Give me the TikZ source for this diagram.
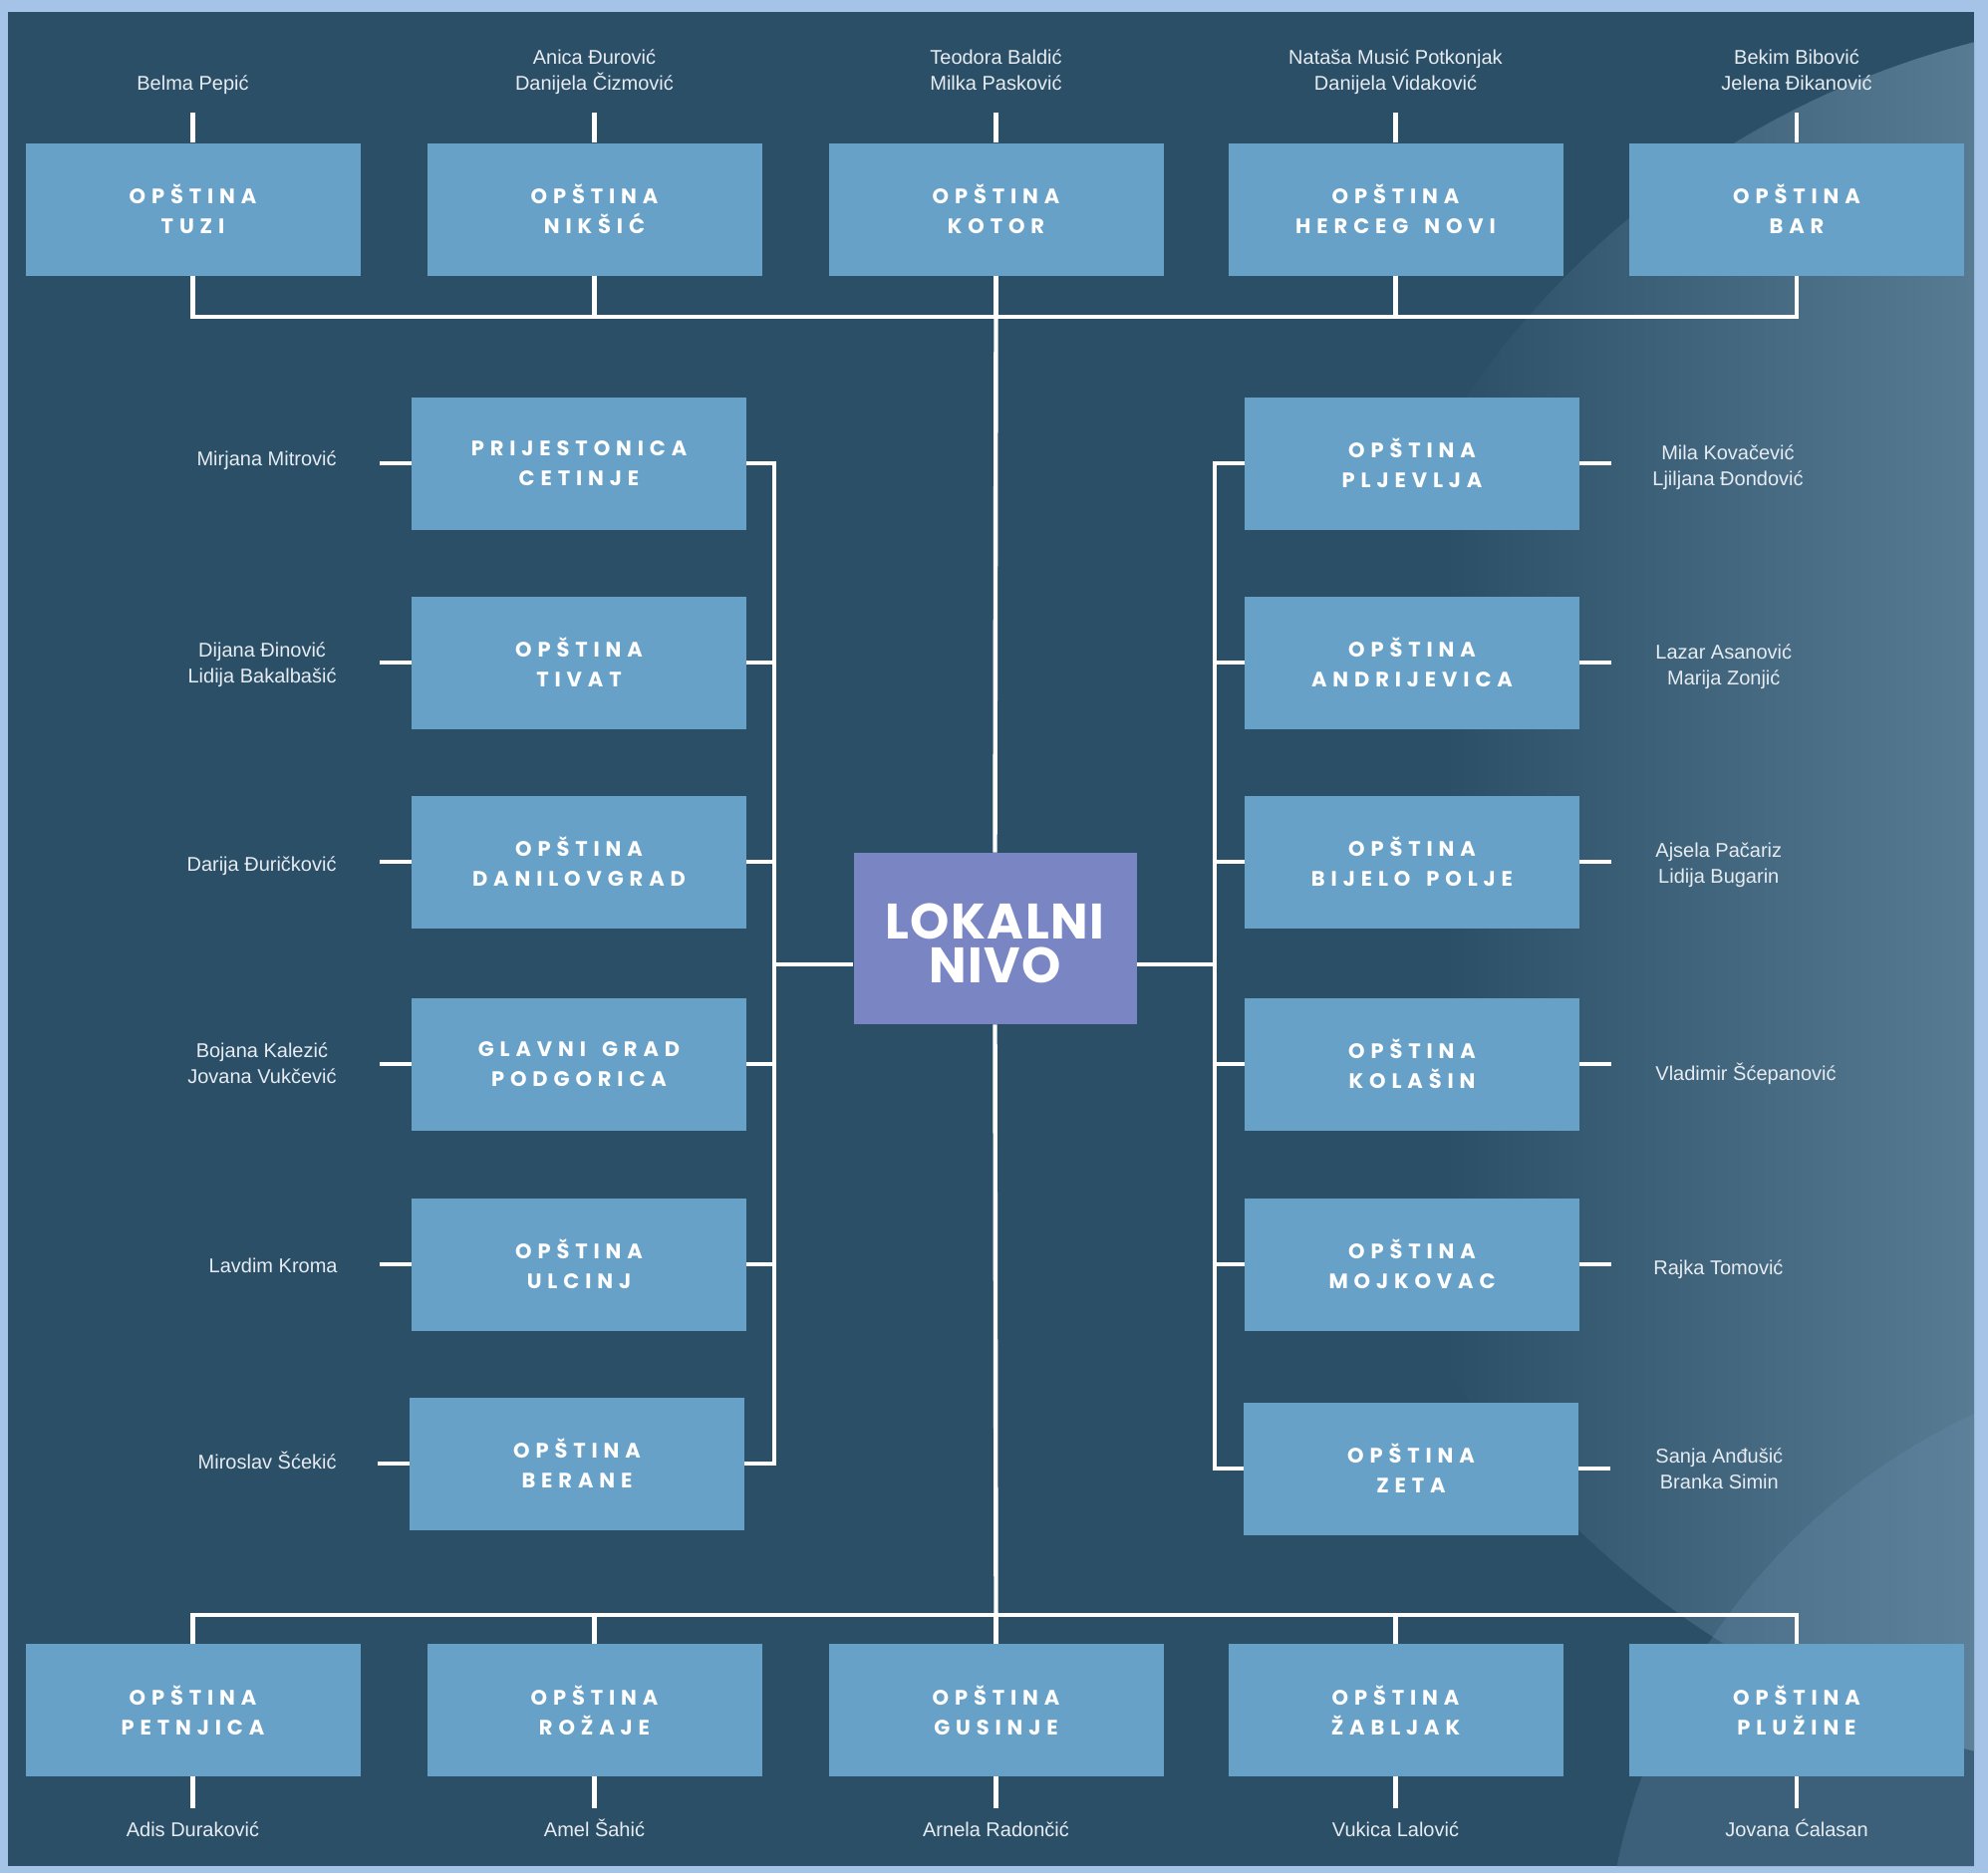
\documentclass[tikz,border=0pt]{standalone}
\usepackage{fontspec}
\setmainfont{Liberation Sans}
\newfontfamily\boxfont{Poppins}[LetterSpace=28]
\newfontfamily\hubfont{Poppins}[LetterSpace=3]
\newfontfamily\namefont{Liberation Sans}
\usetikzlibrary{calc}
\definecolor{framecol}{HTML}{A4C3E6}
\definecolor{bgcol}{HTML}{2C4F68}
\definecolor{lightcol}{HTML}{587B94}
\definecolor{light2}{HTML}{6F93B0}
\definecolor{boxcol}{HTML}{68A1C8}
\definecolor{hubcol}{HTML}{7986C3}
\definecolor{namecol}{HTML}{E6ECF1}
\newcommand{\wsp}{\hspace{8pt}}
\tikzset{
  munibox/.style={rectangle, fill=boxcol, minimum width=168pt, minimum height=66.5pt, inner sep=0pt,
    text=white, align=center, font=\boxfont\bfseries\fontsize{10.5}{15}\selectfont},
  hubbox/.style={rectangle, fill=hubcol, minimum width=142pt, minimum height=86pt, inner sep=0pt,
    text=white, align=center, text height=44pt, text depth=0pt,
    font=\hubfont\bfseries\fontsize{25}{21.6}\selectfont},
  person/.style={inner sep=0pt, text=namecol, align=center, font=\namefont\fontsize{10}{13}\selectfont},
  conn/.style={draw=white, line width=2.2pt}
}
\begin{document}
\begin{tikzpicture}[x=0.5pt,y=-0.5pt]
\useasboundingbox (0,0) rectangle (1995,1880);
% frame and panel
\fill[framecol] (0,0) rectangle (1995,1880);
\fill[bgcol] (8,12) rectangle (1981,1873);
\begin{scope}
  \clip (8,12) rectangle (1981,1873);
  \begin{scope}
    \clip (2200,900) circle (885);
    \shade[left color=bgcol, right color=lightcol] (1450,0) rectangle (1981,1880);
  \end{scope}
  \fill[light2, opacity=0.25] (2250,2000) circle (640);
\end{scope}

% hub
\node[hubbox] (hub) at (998.5,942) {LOKALNI\\NIVO};

% top row
\node[munibox] (t1) at (193.5,210) {OPŠTINA\\TUZI};
\node[munibox] (t2) at (596.5,210) {OPŠTINA\\NIKŠIĆ};
\node[munibox] (t3) at (999.5,210) {OPŠTINA\\KOTOR};
\node[munibox] (t4) at (1400.5,210) {OPŠTINA\\HERCEG\wsp{}NOVI};
\node[munibox] (t5) at (1803,210) {OPŠTINA\\BAR};

% left column
\node[munibox] (l1) at (581,465) {PRIJESTONICA\\CETINJE};
\node[munibox] (l2) at (581,665) {OPŠTINA\\TIVAT};
\node[munibox] (l3) at (581,865) {OPŠTINA\\DANILOVGRAD};
\node[munibox] (l4) at (581,1068) {GLAVNI\wsp{}GRAD\\PODGORICA};
\node[munibox] (l5) at (581,1269) {OPŠTINA\\ULCINJ};
\node[munibox] (l6) at (579,1469) {OPŠTINA\\BERANE};

% right column
\node[munibox] (r1) at (1417,465) {OPŠTINA\\PLJEVLJA};
\node[munibox] (r2) at (1417,665) {OPŠTINA\\ANDRIJEVICA};
\node[munibox] (r3) at (1417,865) {OPŠTINA\\BIJELO\wsp{}POLJE};
\node[munibox] (r4) at (1417,1068) {OPŠTINA\\KOLAŠIN};
\node[munibox] (r5) at (1417,1269) {OPŠTINA\\MOJKOVAC};
\node[munibox] (r6) at (1416,1474) {OPŠTINA\\ZETA};

% bottom row
\node[munibox] (b1) at (193.5,1716.5) {OPŠTINA\\PETNJICA};
\node[munibox] (b2) at (596.5,1716.5) {OPŠTINA\\ROŽAJE};
\node[munibox] (b3) at (999.5,1716.5) {OPŠTINA\\GUSINJE};
\node[munibox] (b4) at (1400.5,1716.5) {OPŠTINA\\ŽABLJAK};
\node[munibox] (b5) at (1803,1716.5) {OPŠTINA\\PLUŽINE};

% junction coordinates
\coordinate (topbus) at (999.5,318);
\coordinate (botbus) at (999.5,1621);
\coordinate (lj) at (777,968);
\coordinate (rj) at (1219,968);

% top connectors
\draw[conn] (t1.south) -- (t1.south |- topbus) -- (t5.south |- topbus) -- (t5.south);
\foreach \n in {t2,t3,t4} \draw[conn] (\n.south) -- (\n.south |- topbus);
\draw[conn] (topbus) -- (hub.north);
% bottom connectors
\draw[conn] (hub.south) -- (botbus);
\draw[conn] (b1.north) -- (b1.north |- botbus) -- (b5.north |- botbus) -- (b5.north);
\foreach \n in {b2,b3,b4} \draw[conn] (\n.north) -- (\n.north |- botbus);
% left spine
\draw[conn] (l1.east) -- (l1.east -| lj) -- (l6.east -| lj) -- (l6.east);
\foreach \n in {l2,l3,l4,l5} \draw[conn] (\n.east) -- (\n.east -| lj);
\draw[conn] (lj) -- (hub.west |- lj);
% right spine
\draw[conn] (r1.west) -- (r1.west -| rj) -- (r6.west -| rj) -- (r6.west);
\foreach \n in {r2,r3,r4,r5} \draw[conn] (\n.west) -- (\n.west -| rj);
\draw[conn] (rj) -- (hub.east |- rj);

% name ticks
\foreach \n in {t1,t2,t3,t4,t5} \draw[conn] (\n.north) -- ++(0,-30);
\foreach \n in {b1,b2,b3,b4,b5} \draw[conn] (\n.south) -- ++(0,32);
\foreach \n in {l1,l2,l3,l4,l5,l6} \draw[conn] (\n.west) -- ++(-32,0);
\foreach \n in {r1,r2,r3,r4,r5,r6} \draw[conn] (\n.east) -- ++(32,0);

% top names (base = baseline of last line)
\node[person, anchor=base] (nt1) at (193.5,90) {Belma Pepić};
\node[person, anchor=base] (nt2) at (596.5,90) {Anica Đurović\\Danijela Čizmović};
\node[person, anchor=base] (nt3) at (999.5,90) {Teodora Baldić\\Milka Pasković};
\node[person, anchor=base] (nt4) at (1400.5,90) {Nataša Musić Potkonjak\\Danijela Vidaković};
\node[person, anchor=base] (nt5) at (1803,90) {Bekim Bibović\\Jelena Đikanović};

% left names
\node[person, anchor=base east] (nl1) at (338,467) {Mirjana Mitrović};
\node[person, anchor=base east] (nl2) at (338,685) {Dijana Đinović\\Lidija Bakalbašić};
\node[person, anchor=base east] (nl3) at (338,874) {Darija Đuričković};
\node[person, anchor=base east] (nl4) at (338,1087) {Bojana Kalezić\\Jovana Vukčević};
\node[person, anchor=base east] (nl5) at (339,1277) {Lavdim Kroma};
\node[person, anchor=base east] (nl6) at (338,1474) {Miroslav Šćekić};

% right names
\node[person, anchor=base west] (nr1) at (1658,487) {Mila Kovačević\\Ljiljana Đondović};
\node[person, anchor=base west] (nr2) at (1661,687) {Lazar Asanović\\Marija Zonjić};
\node[person, anchor=base west] (nr3) at (1661,886) {Ajsela Pačariz\\Lidija Bugarin};
\node[person, anchor=base west] (nr4) at (1661,1084) {Vladimir Šćepanović};
\node[person, anchor=base west] (nr5) at (1659,1279) {Rajka Tomović};
\node[person, anchor=base west] (nr6) at (1661,1494) {Sanja Anđušić\\Branka Simin};

% bottom names
\node[person, anchor=base] (nb1) at (193.5,1843) {Adis Duraković};
\node[person, anchor=base] (nb2) at (596.5,1843) {Amel Šahić};
\node[person, anchor=base] (nb3) at (999.5,1843) {Arnela Radončić};
\node[person, anchor=base] (nb4) at (1400.5,1843) {Vukica Lalović};
\node[person, anchor=base] (nb5) at (1803,1843) {Jovana Ćalasan};
\end{tikzpicture}
\end{document}
